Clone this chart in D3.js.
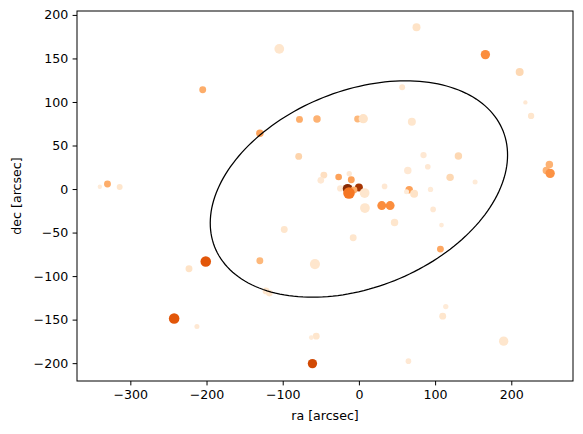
<!DOCTYPE html>
<html>
<head>
<meta charset="utf-8">
<script src="https://cdn.jsdelivr.net/npm/d3@7"></script>
<style>
  body { margin: 0; background: #fff; }
  svg { font-family: "DejaVu Sans", sans-serif; }
</style>
</head>
<body>
<svg width="583" height="434"></svg>
<script>
// source positions, colour value and marker area
var ra  = [-104.5, -205, -78, -55, -130, -79, -330, -340, -314, 75.6, 166, 211, 218.5, 226, 56.8, -1.7, 5.7, 69.5, 84.8, 130.6,
           90.4, 64.2, 119.7, 152.5, 250, 246, 251, -46, -50, -26.6, -12.7, -10, 33.7, 94, 66, 72.5, 62.5, -24.5, -14.8, 0,
           -6.5, -13, 7.5, 7.9, 30, 41, 46.8, 97.4, 108.4, 107, -7.5, -57.7, 114, 110, 190, 65, -61, -56, -62.5, -98,
           -130, -201, -223, -242.5, -212.6, -122, -117.5];
var dec = [161, 114, 80, 80.5, 64, 37.5, 5.7, 2.6, 2.3, 185.8, 154.4, 134.5, 99.5, 84, 117, 80.5, 80.8, 77.3, 39, 38,
           25.6, 21.4, 13.4, 8, 28.3, 21.4, 18, 16, 10, 13.8, 17.6, 10.7, 3, -0.4, -0.8, -5.4, -3, 0.7, 0.3, 1.8,
           -1, -4.6, -4.6, -21.8, -19, -19, -38.5, -23.4, -41.4, -69, -56, -86.2, -135, -146, -174.7, -197.7, -200.5, -169, -170.6, -46.4,
           -82.4, -83.2, -91.6, -148.7, -158, -117, -119.5];
var cval = [0.12, 0.38, 0.38, 0.36, 0.42, 0.22, 0.38, 0.08, 0.12, 0.14, 0.5, 0.2, 0.1, 0.12, 0.12, 0.34, 0.14, 0.12, 0.1, 0.2,
            0.1, 0.1, 0.2, 0.08, 0.36, 0.36, 0.48, 0.16, 0.1, 0.42, 0.1, 0.42, 0.1, 0.08, 0.42, 0.14, 0.08, 0.1, 0.97, 0.88,
            0.38, 0.58, 0.12, 0.12, 0.5, 0.5, 0.12, 0.1, 0.08, 0.4, 0.12, 0.12, 0.08, 0.12, 0.12, 0.1, 0.76, 0.12, 0.08, 0.12,
            0.34, 0.7, 0.14, 0.7, 0.1, 0.12, 0.12];
var area = [60, 30, 30, 35, 35, 30, 30, 12, 22, 40, 55, 40, 12, 25, 22, 30, 55, 40, 25, 35,
            20, 35, 35, 16, 35, 35, 55, 30, 28, 28, 18, 30, 20, 18, 35, 40, 16, 25, 60, 40,
            30, 85, 60, 60, 50, 50, 35, 20, 14, 30, 30, 65, 18, 30, 55, 20, 55, 30, 14, 30,
            30, 70, 30, 70, 16, 28, 28];

// ellipse: centre, full width / height, rotation (deg)
var ellCenter = [0, 0];
var ellSize = [402, 229];
var ellAngle = 17;

var xTicks = [-300, -200, -100, 0, 100, 200];
var yTicks = [-200, -150, -100, -50, 0, 50, 100, 150, 200];

width = 583;
height = 434;
margin = ({top: 11, right: 10, bottom: 53, left: 77});

var data = ra.map((d, i) => ({ra: d, dec: dec[i], c: cval[i], s: area[i]}));

x = d3.scaleLinear().domain([-370, 281]).range([margin.left, width - margin.right]);
y = d3.scaleLinear().domain([-220.5, 204.5]).range([height - margin.bottom, margin.top]);
r = d3.scaleSqrt().domain([0, 100]).range([0, 6.3]);

const svg = d3.select("svg");

svg.append("g")
    .selectAll("circle")
    .data(data)
    .join("circle")
      .attr("cx", d => x(d.ra))
      .attr("cy", d => y(d.dec))
      .attr("r", d => r(d.s))
      .attr("fill", d => d3.interpolateOranges(d.c));

// rotated ellipse sampled in data space
var phi = ellAngle * Math.PI / 180;
var ea = ellSize[0] / 2, eb = ellSize[1] / 2;
var ellPts = d3.range(0, 361, 2).map(t => {
  var th = t * Math.PI / 180;
  return [ellCenter[0] + ea * Math.cos(th) * Math.cos(phi) - eb * Math.sin(th) * Math.sin(phi),
          ellCenter[1] + ea * Math.cos(th) * Math.sin(phi) + eb * Math.sin(th) * Math.cos(phi)];
});
svg.append("path")
    .attr("d", d3.line().x(d => x(d[0])).y(d => y(d[1])).curve(d3.curveLinearClosed)(ellPts))
    .attr("fill", "none")
    .attr("stroke", "#000")
    .attr("stroke-width", 1.25);

// axes
const xAxis = g => g
    .attr("transform", `translate(0,${height - margin.bottom})`)
    .call(d3.axisBottom(x).tickValues(xTicks).tickSize(4.4).tickPadding(4.4)
      .tickFormat(d => d3.format("d")(d).replace("-", "\u2212")))
    .call(g => g.select(".domain").remove());

const yAxis = g => g
    .attr("transform", `translate(${margin.left},0)`)
    .call(d3.axisLeft(y).tickValues(yTicks).tickSize(4.4).tickPadding(4.4)
      .tickFormat(d => d3.format("d")(d).replace("-", "\u2212")))
    .call(g => g.select(".domain").remove());

svg.append("g").call(xAxis);
svg.append("g").call(yAxis);
svg.selectAll(".tick text").attr("font-size", 12.6).attr("fill", "#000").attr("font-family", "DejaVu Sans");
svg.selectAll(".tick line").attr("stroke", "#000").attr("stroke-width", 1);

svg.append("rect")
    .attr("x", margin.left)
    .attr("y", margin.top)
    .attr("width", width - margin.left - margin.right)
    .attr("height", height - margin.top - margin.bottom)
    .attr("fill", "none")
    .attr("stroke", "#000")
    .attr("stroke-width", 1);

svg.append("text")
    .attr("x", (margin.left + width - margin.right) / 2)
    .attr("y", 420)
    .attr("text-anchor", "middle")
    .attr("font-size", 12.6)
    .text("ra [arcsec]");

svg.append("text")
    .attr("transform", `translate(20.5,${(margin.top + height - margin.bottom) / 2}) rotate(-90)`)
    .attr("text-anchor", "middle")
    .attr("font-size", 12.6)
    .text("dec [arcsec]");
</script>
</body>
</html>
